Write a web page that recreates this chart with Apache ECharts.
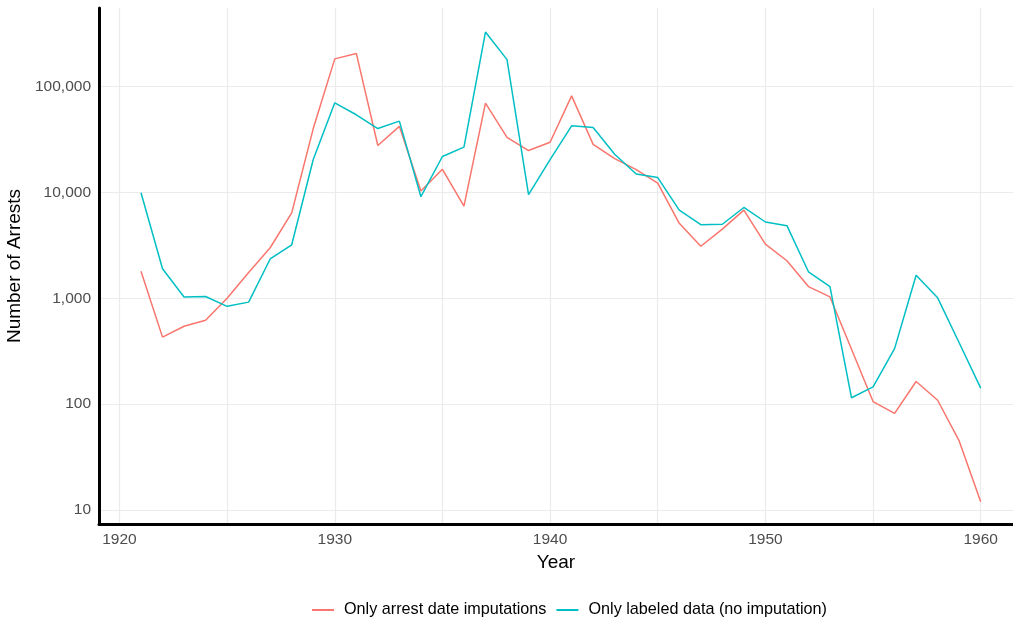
<!DOCTYPE html>
<html>
<head>
<meta charset="utf-8">
<script src="https://cdn.jsdelivr.net/npm/echarts@6/dist/echarts.min.js"></script>
<style>
  html, body { margin: 0; padding: 0; background: #fff; }
  #main { width: 1013px; height: 624px; }
</style>
</head>
<body>
<div id="main"></div>
<script>
// years and the two series
var years = [1921, 1922, 1923, 1924, 1925, 1926, 1927, 1928, 1929, 1930,
  1931, 1932, 1933, 1934, 1935, 1936, 1937, 1938, 1939, 1940,
  1941, 1942, 1943, 1944, 1945, 1946, 1947, 1948, 1949, 1950,
  1951, 1952, 1953, 1954, 1955, 1956, 1957, 1958, 1959, 1960];

var arrestImputed = [1800, 430, 545, 620, 1000, 1750, 3000, 6400, 40000, 182000,
  205000, 27700, 42000, 10300, 16500, 7400, 69500, 33000, 24800, 29700,
  81500, 28400, 20800, 16400, 12200, 5100, 3100, 4500, 6800, 3250,
  2260, 1290, 1030, 330, 106, 82, 164, 109, 45, 12];

var labeledOnly = [9900, 1900, 1030, 1040, 840, 920, 2350, 3200, 20400, 70000,
  54000, 40000, 47000, 9100, 21800, 26700, 326000, 179000, 9500, 20400,
  42500, 41000, 22900, 14900, 13800, 6800, 4950, 5000, 7200, 5250,
  4850, 1780, 1290, 115, 146, 335, 1650, 1010, 380, 142];

var seriesNames = ['Only arrest date imputations', 'Only labeled data (no imputation)'];

function pairs(ys) {
  return years.map(function (y, i) { return [y, ys[i]]; });
}

var myChart = echarts.init(document.getElementById('main'));

var option = {
  backgroundColor: '#fff',
  textStyle: { fontFamily: 'Liberation Sans' },
  color: ['#F8766D', '#00BFC4'],
  grid: { left: 99, right: 0, top: 8, bottom: 100, containLabel: false, outerBoundsMode: 'none' },
  legend: {
    bottom: 1,
    left: 307,
    data: seriesNames,
    icon: 'rect',
    itemWidth: 22,
    itemHeight: 2,
    itemGap: 10,
    textStyle: { fontSize: 16.2, color: '#000', padding: [0, 0, 0, 5] }
  },
  xAxis: {
    type: 'value',
    min: 1919.05,
    max: 1961.5,
    splitNumber: 8,
    name: 'Year',
    nameLocation: 'middle',
    nameGap: 27,
    nameTextStyle: { fontSize: 19, color: '#000' },
    axisLine: { show: true, onZero: false, lineStyle: { color: '#000', width: 3 } },
    axisTick: { show: false },
    axisLabel: {
      fontSize: 15.5,
      color: '#4d4d4d',
      margin: 8,
      showMinLabel: false,
      showMaxLabel: false,
      formatter: function (v) { return v % 10 === 0 ? String(v) : ''; }
    },
    splitLine: { show: true, showMinLine: false, showMaxLine: false, lineStyle: { color: '#ebebeb', width: 1.2 } }
  },
  yAxis: {
    type: 'log',
    logBase: 10,
    min: 7.4,
    max: 550000,
    name: 'Number of Arrests',
    nameLocation: 'middle',
    nameGap: 71,
    nameTextStyle: { fontSize: 19, color: '#000' },
    axisLine: { show: true, onZero: false, lineStyle: { color: '#000', width: 3 } },
    axisTick: { show: false },
    axisLabel: {
      fontSize: 15.5,
      color: '#4d4d4d',
      margin: 8,
      showMinLabel: false,
      showMaxLabel: false,
      formatter: function (v) { return Math.round(v).toLocaleString('en-US'); }
    },
    splitLine: { show: true, showMinLine: false, showMaxLine: false, lineStyle: { color: '#ebebeb', width: 1.2 } }
  },
  series: [
    {
      name: seriesNames[0],
      type: 'line',
      data: pairs(arrestImputed),
      showSymbol: false,
      symbol: 'none',
      lineStyle: { width: 1.5 },
      z: 2
    },
    {
      name: seriesNames[1],
      type: 'line',
      data: pairs(labeledOnly),
      showSymbol: false,
      symbol: 'none',
      lineStyle: { width: 1.5 },
      z: 3
    }
  ]
};

myChart.setOption(option);
</script>
</body>
</html>
